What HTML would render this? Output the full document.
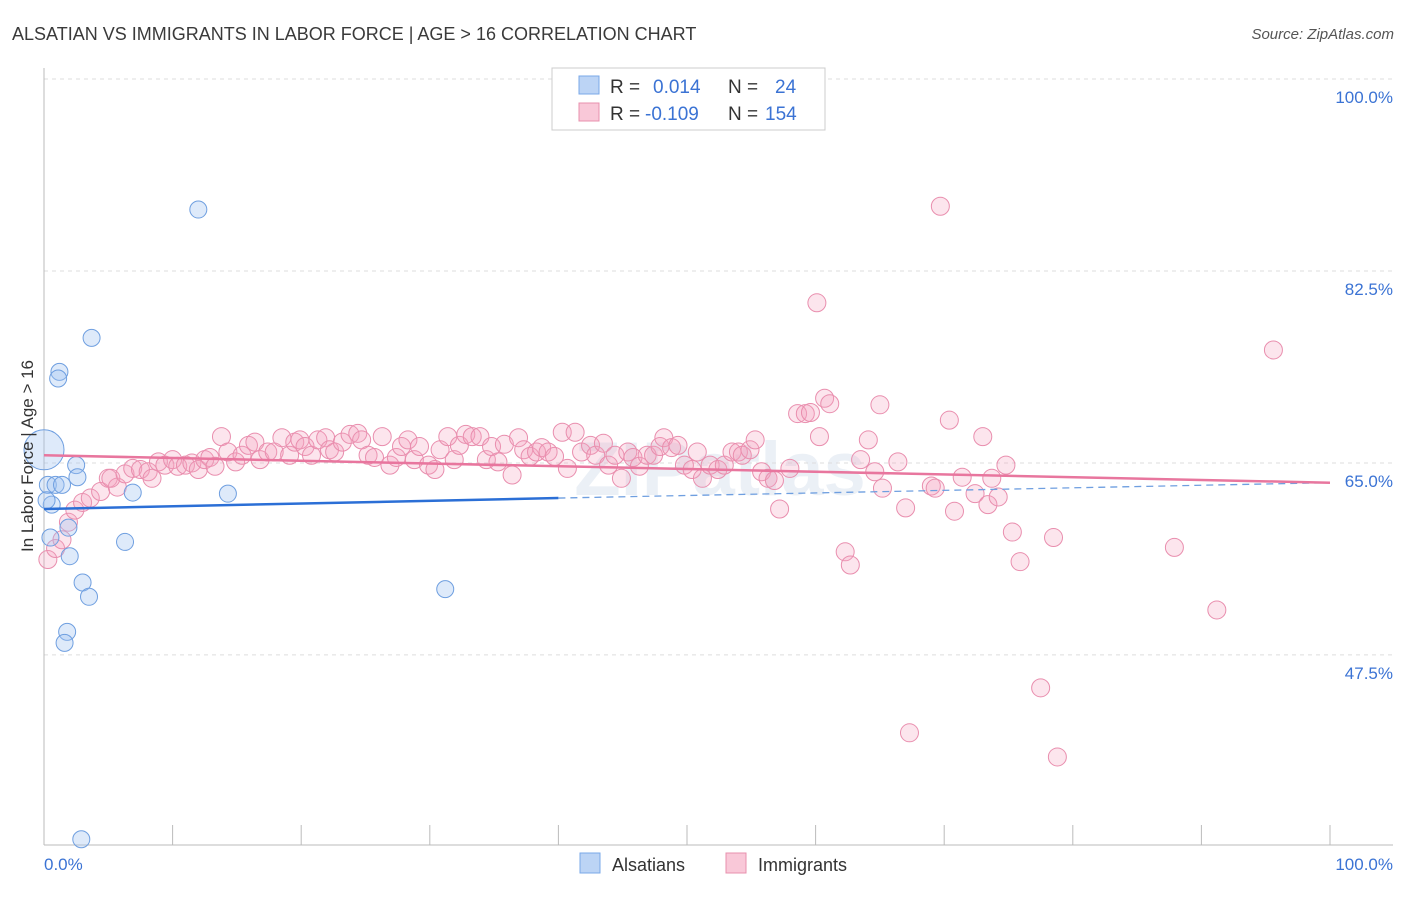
<!DOCTYPE html>
<html><head><meta charset="utf-8"><style>
body{margin:0;background:#fff;font-family:"Liberation Sans",sans-serif;}
</style></head><body>
<svg id="chart" width="1406" height="892" xmlns="http://www.w3.org/2000/svg" font-family="Liberation Sans, sans-serif">
<text x="12" y="40" font-size="18" fill="#3a3a3a">ALSATIAN VS IMMIGRANTS IN LABOR FORCE | AGE &gt; 16 CORRELATION CHART</text>
<text x="1394" y="39" font-size="15" fill="#555" font-style="italic" text-anchor="end">Source: ZipAtlas.com</text>
<text x="720" y="495" font-size="76" fill="#d8e2ee" fill-opacity="0.5" text-anchor="middle" font-weight="bold">ZIPatlas</text>
<g id="grid"></g><g id="axes"></g><g id="pts"></g><g id="trends"></g>
<text transform="translate(33,456) rotate(-90)" font-size="17" fill="#333" text-anchor="middle">In Labor Force | Age &gt; 16</text>
<text x="44" y="870" font-size="17" fill="#3b73d4">0.0%</text>
<text x="1393" y="870" font-size="17" fill="#3b73d4" text-anchor="end">100.0%</text>
<g>
<rect x="552" y="68" width="273" height="62" fill="#fff" stroke="#ccc"/>
<rect x="579" y="76" width="20" height="18" fill="#bcd4f5" stroke="#7aa8e8"/>
<rect x="579" y="103" width="20" height="18" fill="#f9c8d8" stroke="#e890ae"/>
<text x="610" y="93" font-size="19" fill="#333">R =</text>
<text x="653" y="93" font-size="19" fill="#3b73d4">0.014</text>
<text x="728" y="93" font-size="19" fill="#333">N =</text>
<text x="775" y="93" font-size="19" fill="#3b73d4">24</text>
<text x="610" y="120" font-size="19" fill="#333">R =</text>
<text x="645" y="120" font-size="19" fill="#3b73d4">-0.109</text>
<text x="728" y="120" font-size="19" fill="#333">N =</text>
<text x="765" y="120" font-size="19" fill="#3b73d4">154</text>
</g>
<g>
<rect x="580" y="853" width="20" height="20" fill="#bcd4f5" stroke="#7aa8e8"/>
<text x="612" y="871" font-size="18" fill="#333">Alsatians</text>
<rect x="726" y="853" width="20" height="20" fill="#f9c8d8" stroke="#e890ae"/>
<text x="758" y="871" font-size="18" fill="#333">Immigrants</text>
</g>
</svg>
<script>
const yTicks=[100,82.5,65,47.5];
const yTickLabels=["100.0%","82.5%","65.0%","47.5%"];
const xTicks=[0,10,20,30,40,50,60,70,80,90,100];
const blueX=[0,0.3,0.6,0.9,1.4,2.5,2.6,1.2,1.1,3.7,12.0,6.9,14.3,6.3,2.0,3.0,3.5,1.8,1.6,2.9,31.2,0.5,1.9,0.2];
const blueY=[66.2,63.0,61.2,63.0,63.0,64.8,63.7,73.3,72.7,76.4,88.1,62.3,62.2,57.8,56.5,54.1,52.8,49.6,48.6,30.7,53.5,58.2,59.1,61.6];
const pinkX=[0.3,0.9,1.4,1.9,2.4,3.0,3.6,4.4,5.0,5.7,5.2,6.3,6.9,7.5,8.1,8.4,8.9,9.4,10.0,10.4,11.0,11.5,12.0,12.5,12.9,13.3,13.8,14.3,14.9,15.4,15.9,16.4,16.8,17.4,17.9,18.5,19.1,19.5,19.9,20.3,20.8,21.3,21.9,22.2,22.6,23.2,23.8,24.4,24.7,25.2,25.7,26.3,26.9,27.4,27.8,28.3,28.8,29.2,29.9,30.4,30.8,31.4,31.9,32.3,32.8,33.3,33.9,34.4,34.8,35.3,35.8,36.4,36.9,37.3,37.8,38.3,38.7,39.2,39.7,40.3,40.7,41.3,41.8,42.5,42.9,43.5,43.9,44.4,44.9,45.4,45.8,46.3,46.9,47.4,47.9,48.2,48.8,49.3,49.8,50.4,50.8,51.2,51.8,52.4,52.9,53.5,54.0,54.3,54.9,55.3,55.8,56.3,56.8,57.2,58.0,58.6,59.2,59.6,60.1,60.3,60.7,61.1,62.3,62.7,63.5,64.1,64.6,65.0,65.2,66.4,67.0,67.3,69.0,69.3,69.7,70.4,70.8,71.4,72.4,73.0,73.4,73.7,74.2,74.8,75.3,75.9,77.5,78.5,78.8,87.9,91.2,95.6];
const pinkY=[56.2,57.2,58.0,59.6,60.7,61.4,61.8,62.4,63.6,62.8,63.6,64.0,64.5,64.4,64.2,63.6,65.1,64.8,65.3,64.7,64.8,65.0,64.4,65.3,65.5,64.7,67.4,66.0,65.1,65.7,66.6,66.9,65.3,66.0,66.0,67.3,65.7,66.9,67.1,66.5,65.7,67.1,67.3,66.2,66.0,66.9,67.6,67.7,67.1,65.7,65.5,67.4,64.8,65.5,66.5,67.1,65.3,66.5,64.8,64.4,66.2,67.4,65.3,66.6,67.6,67.4,67.4,65.3,66.5,65.1,66.7,63.9,67.3,66.2,65.6,66.0,66.4,66.0,65.6,67.8,64.5,67.8,66.0,66.6,65.7,66.8,64.8,65.7,63.6,66.0,65.5,64.7,65.7,65.7,66.5,67.3,66.4,66.6,64.8,64.4,66.0,63.6,64.8,64.4,64.8,66.0,66.0,65.7,66.2,67.1,64.2,63.6,63.4,60.8,64.5,69.5,69.5,69.6,79.6,67.4,70.9,70.4,56.9,55.7,65.3,67.1,64.2,70.3,62.7,65.1,60.9,40.4,62.9,62.7,88.4,68.9,60.6,63.7,62.2,67.4,61.2,63.6,61.9,64.8,58.7,56.0,44.5,58.2,38.2,57.3,51.6,75.3];
const blueTrendX=[0,40,100];
const blueTrendY=[60.8,61.8,63.2];
const pinkTrendX=[0,100];
const pinkTrendY=[65.7,63.2];

const NS="http://www.w3.org/2000/svg";
const sx=v=>44+v*12.86;
const sy=v=>79+(100-v)*10.97;
function mk(t,a,p){const e=document.createElementNS(NS,t);for(const k in a)e.setAttribute(k,a[k]);p.appendChild(e);return e;}
const grid=document.getElementById('grid'),axes=document.getElementById('axes'),pts=document.getElementById('pts'),tr=document.getElementById('trends');
yTicks.forEach((v,i)=>{
 const l=mk('line',{x1:44,x2:1393,y1:sy(v),y2:sy(v),stroke:'#ddd','stroke-dasharray':'4,4'},grid);
 
 
 const t=mk('text',{x:1393,y:sy(v)+24,'font-size':17,fill:'#3b73d4','text-anchor':'end'},grid);
 t.textContent=yTickLabels[i];
 
 
});
const ya=mk('line',{x1:44,x2:44,y1:68,y2:845,stroke:'#bbb'},axes);


const xa=mk('line',{x1:44,x2:1393,y1:845,y2:845,stroke:'#bbb'},axes);


xTicks.forEach(v=>{
 const t=mk('line',{x1:sx(v),x2:sx(v),y1:825,y2:845,stroke:'#bbb'},axes);
 
 
});
pinkX.forEach((x,i)=>{
 const c=mk('circle',{cx:sx(x),cy:sy(pinkY[i]),r:9,fill:'rgba(244,160,190,0.28)',stroke:'#e98eae','stroke-width':1},pts);
 
 
});
blueX.forEach((x,i)=>{
 const c=mk('circle',{cx:sx(x),cy:sy(blueY[i]),r:i===0?20:8.5,fill:'rgba(160,195,240,0.35)',stroke:'#6f9fe0','stroke-width':1},pts);
 
 
});
const b1=mk('line',{x1:sx(blueTrendX[0]),y1:sy(blueTrendY[0]),x2:sx(blueTrendX[1]),y2:sy(blueTrendY[1]),stroke:'#2b6fd6','stroke-width':2.5},tr);


const b2=mk('line',{x1:sx(blueTrendX[1]),y1:sy(blueTrendY[1]),x2:sx(blueTrendX[2]),y2:sy(blueTrendY[2]),stroke:'#6f9fe0','stroke-width':1.3,'stroke-dasharray':'7,5'},tr);


const p1=mk('line',{x1:sx(pinkTrendX[0]),y1:sy(pinkTrendY[0]),x2:sx(pinkTrendX[1]),y2:sy(pinkTrendY[1]),stroke:'#e8769e','stroke-width':2.5},tr);


</script>
</body></html>
